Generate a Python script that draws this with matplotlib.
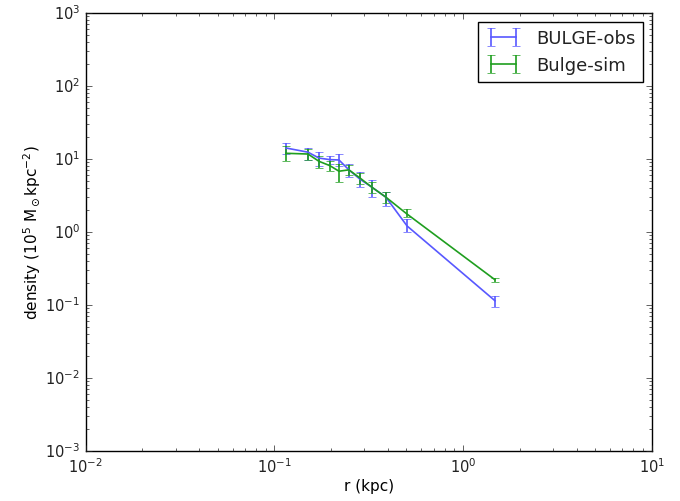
import matplotlib
matplotlib.use("Agg")
import matplotlib.pyplot as plt
from matplotlib.ticker import LogLocator, NullFormatter
import numpy as np

plt.style.use("classic")
plt.rcParams["font.family"] = ["DejaVu Sans"]
plt.rcParams["font.size"] = 11
plt.rcParams["mathtext.default"] = "regular"
plt.rcParams["figure.facecolor"] = "white"
plt.rcParams["text.color"] = "#222222"
plt.rcParams["xtick.color"] = "#222222"
plt.rcParams["ytick.color"] = "#222222"

# Radii of the bins (kpc)
r = [0.1152, 0.1507, 0.1723, 0.197, 0.220, 0.2484, 0.284, 0.329, 0.390, 0.505, 1.476]

# Observed bulge surface density and its error range
obs = [14.15, 12.4, 10.3, 9.8, 9.7, 7.1, 5.3, 4.1, 3.0, 1.21, 0.1145]
obs_hi = [16.6, 14.1, 12.4, 11.0, 11.7, 8.5, 6.6, 5.2, 3.5, 1.51, 0.132]
obs_lo = [11.7, 9.7, 7.9, 8.6, 7.9, 5.7, 4.2, 3.05, 2.3, 0.99, 0.0935]

# Simulated bulge surface density and its error range
sim = [11.97, 11.7, 9.3, 8.1, 6.8, 7.1, 5.5, 4.1, 3.0, 1.76, 0.222]
sim_hi = [15.1, 13.6, 11.1, 9.4, 8.5, 8.3, 6.5, 4.8, 3.5, 2.07, 0.234]
sim_lo = [9.4, 9.8, 7.5, 6.9, 4.8, 6.0, 4.5, 3.4, 2.5, 1.63, 0.208]

fig = plt.figure(figsize=(6.8, 5.02), dpi=100)
ax = fig.add_axes([85.7 / 680, 50 / 502, 566 / 680, 438 / 502])

def err(v, lo, hi):
    v = np.asarray(v); lo = np.asarray(lo); hi = np.asarray(hi)
    return np.vstack([v - lo, hi - v])

ax.errorbar(r, obs, yerr=err(obs, obs_lo, obs_hi), color="#5858ff",
            lw=1.2, capsize=3, label="BULGE-obs")
ax.errorbar(r, sim, yerr=err(sim, sim_lo, sim_hi), color="#1f9e1f",
            lw=1.2, capsize=3, label="Bulge-sim")

ax.set_xscale("log")
ax.set_yscale("log")
ax.set_xlim(1e-2, 1e1)
ax.set_ylim(1e-3, 1e3)
for axis in (ax.xaxis, ax.yaxis):
    axis.set_minor_locator(LogLocator(base=10, subs=np.arange(2, 10), numticks=50))
    axis.set_minor_formatter(NullFormatter())
    axis.offsetText.set_visible(False)
ax.tick_params(which="both", labelsize=10.5)
ax.set_xlabel("r (kpc)", labelpad=2)
ax.set_ylabel(r"density (10$^5$ M$_\odot$kpc$^{-2}$)", labelpad=1.5)

ax.legend(loc="upper right", fontsize=13, numpoints=2)

fig.savefig("out.png", dpi=100, facecolor="white")
